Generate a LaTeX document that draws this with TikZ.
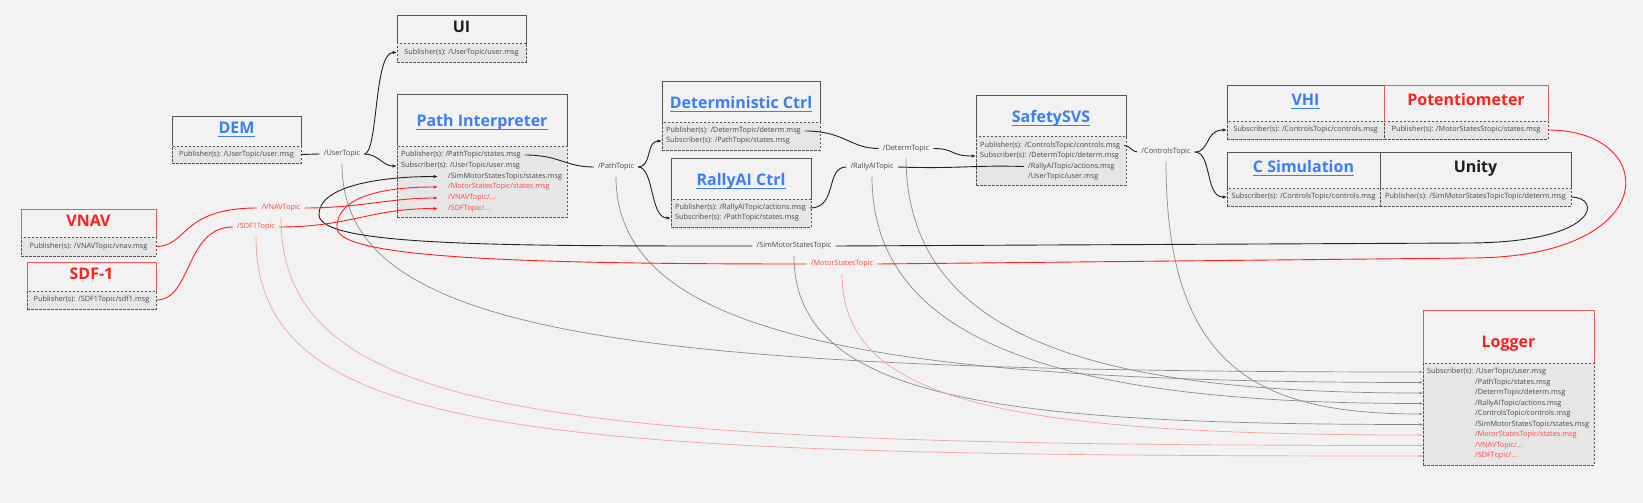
\documentclass[tikz,border=0pt]{standalone}
\usepackage{fontspec}
\setmainfont{Open Sans}
\usetikzlibrary{arrows.meta}
\definecolor{bg}{HTML}{F2F2F2}
\definecolor{subfill}{HTML}{E6E6E6}
\definecolor{bord}{HTML}{555555}
\definecolor{linkblue}{HTML}{3D7EF2}
\definecolor{tred}{HTML}{FF1F1F}
\definecolor{lred}{HTML}{FF4444}
\definecolor{pred}{HTML}{EE5A5A}
\definecolor{txt}{HTML}{474747}
\definecolor{logg}{HTML}{8A8A8A}
\definecolor{logr}{HTML}{F7A0A0}
\definecolor{conn}{HTML}{222222}
\definecolor{dark}{HTML}{1C1C1C}
\begin{document}
\begin{tikzpicture}[x=1pt,y=-1pt,
 tbox/.style={draw=bord, line width=0.9pt, fill=bg, anchor=north west, inner sep=0pt, outer sep=0pt},
 sbox/.style={draw=bord, line width=0.75pt, dash pattern=on 2.5pt off 1.5pt, fill=subfill, anchor=north west, inner sep=0pt, outer sep=0pt},
 ttl/.style={font=\fontsize{16}{18}\selectfont\bfseries, inner sep=0pt, text height=11.5pt, text depth=0pt},
 ulin/.style={draw=linkblue, line width=1.3pt},
 rowtxt/.style={font=\fontsize{7.3}{9}\selectfont, text=txt, inner xsep=4pt, inner ysep=0pt, text height=5.5pt, text depth=1.6pt},
 topiclbl/.style={font=\fontsize{7.3}{9}\selectfont, text=txt, inner xsep=4pt, inner ysep=0pt, text height=5.5pt, text depth=1.6pt},
 cn/.style={draw=conn, line width=0.9pt},
 rc/.style={draw=tred, line width=0.9pt},
 arr/.style={-{Latex[length=4.5pt,width=3.5pt]}},
 loggray/.style={draw=logg, line width=0.7pt},
 logred/.style={draw=logr, line width=0.7pt},
 logarr/.style={-{Latex[length=3.5pt,width=2.8pt]}}
]
\fill[bg] (0,0) rectangle (1643,503);
\useasboundingbox (0,0) rectangle (1643,503);

% ---------- DEM
\node[tbox, minimum width=129pt, minimum height=30pt] (demT) at (172,116) {};
\node[sbox, minimum width=129pt, minimum height=17pt] (demS) at (172,146) {};
\node[ttl, text=linkblue] (demN) at (236.5,128) {DEM};
\draw[ulin] ([shift={(0,2.5)}]demN.south west) -- ([shift={(0,2.5)}]demN.south east);
\node[rowtxt] (demP) at (demS.center) {Publisher(s): /UserTopic/user.msg};

% ---------- UI
\node[tbox, minimum width=129pt, minimum height=28pt] (uiT) at (397,15) {};
\node[sbox, minimum width=129pt, minimum height=19pt] (uiS) at (397,43) {};
\node[ttl, text=dark] (uiN) at (461.5,26.5) {UI};
\node[rowtxt] (uiP) at (uiS.center) {Sublisher(s): /UserTopic/user.msg};

% ---------- Path Interpreter
\node[tbox, minimum width=170pt, minimum height=52pt] (piT) at (397,94) {};
\node[sbox, minimum width=170pt, minimum height=71pt] (piS) at (397,146) {};
\node[ttl, text=linkblue] (piN) at (482,121) {Path Interpreter};
\draw[ulin] ([shift={(0,2.5)}]piN.south west) -- ([shift={(0,2.5)}]piN.south east);
\node[rowtxt, anchor=west] (piP) at (397,155) {Publisher(s): /PathTopic/states.msg};
\node[rowtxt, anchor=west] (piSub) at (397,166) {Subscriber(s): /UserTopic/user.msg};
\node[rowtxt, anchor=west] (piSim) at (444,176.5) {/SimMotorStatesTopic/states.msg};
\node[rowtxt, anchor=west, text=lred] (piMot) at (444,187) {/MotorStatesTopic/states.msg};
\node[rowtxt, anchor=west, text=lred] (piVn) at (444,198) {/VNAVTopic/...};
\node[rowtxt, anchor=west, text=lred] (piSdf) at (444,208.5) {/SDFTopic/...};

% ---------- VNAV
\node[tbox, draw=pred, minimum width=135pt, minimum height=28pt] (vnT) at (21,209) {};
\node[sbox, minimum width=135pt, minimum height=19pt] (vnS) at (21,237) {};
\node[ttl, text=tred] (vnN) at (88.5,220.5) {VNAV};
\node[rowtxt] (vnP) at (vnS.center) {Publisher(s): /VNAVTopic/vnav.msg};

% ---------- SDF-1
\node[tbox, draw=pred, minimum width=129pt, minimum height=29pt] (sdT) at (27,262) {};
\node[sbox, minimum width=129pt, minimum height=18pt] (sdS) at (27,291) {};
\node[ttl, text=tred] (sdN) at (91.5,274) {SDF-1};
\node[rowtxt] (sdP) at (sdS.center) {Publisher(s): /SDF1Topic/sdf1.msg};

% ---------- Deterministic Ctrl
\node[tbox, minimum width=158pt, minimum height=41pt] (dcT) at (662,81) {};
\node[sbox, minimum width=158pt, minimum height=28pt] (dcS) at (662,122) {};
\node[ttl, text=linkblue] (dcN) at (741,103) {Deterministic Ctrl};
\draw[ulin] ([shift={(0,2.5)}]dcN.south west) -- ([shift={(0,2.5)}]dcN.south east);
\node[rowtxt, anchor=west] (dcP) at (662,131) {Publisher(s): /DetermTopic/determ.msg};
\node[rowtxt, anchor=west] (dcSub) at (662,141) {Subscriber(s): /PathTopic/states.msg};

% ---------- RallyAI Ctrl
\node[tbox, minimum width=140pt, minimum height=41pt] (raT) at (671,158) {};
\node[sbox, minimum width=140pt, minimum height=28pt] (raS) at (671,199) {};
\node[ttl, text=linkblue] (raN) at (741,180) {RallyAI Ctrl};
\draw[ulin] ([shift={(0,2.5)}]raN.south west) -- ([shift={(0,2.5)}]raN.south east);
\node[rowtxt, anchor=west] (raP) at (671,208) {Publisher(s): /RallyAITopic/actions.msg};
\node[rowtxt, anchor=west] (raSub) at (671,218) {Subscriber(s): /PathTopic/states.msg};

% ---------- SafetySVS
\node[tbox, minimum width=150pt, minimum height=41pt] (svT) at (976,95) {};
\node[sbox, minimum width=150pt, minimum height=49pt] (svS) at (976,136) {};
\node[ttl, text=linkblue] (svN) at (1051,117) {SafetySVS};
\draw[ulin] ([shift={(0,2.5)}]svN.south west) -- ([shift={(0,2.5)}]svN.south east);
\node[rowtxt, anchor=west] (svP) at (976,145.5) {Publisher(s): /ControlsTopic/controls.msg};
\node[rowtxt, anchor=west] (svSub) at (976,156) {Subscriber(s): /DetermTopic/determ.msg};
\node[rowtxt, anchor=west] (svRa) at (1024,166.5) {/RallyAITopic/actions.msg};
\node[rowtxt, anchor=west] (svUs) at (1024,177) {/UserTopic/user.msg};

% ---------- VHI
\node[tbox, minimum width=157pt, minimum height=36pt] (vhT) at (1227,85) {};
\node[sbox, minimum width=157pt, minimum height=18pt] (vhS) at (1227,121) {};
\node[ttl, text=linkblue] (vhN) at (1305.5,100) {VHI};
\draw[ulin] ([shift={(0,2.5)}]vhN.south west) -- ([shift={(0,2.5)}]vhN.south east);
\node[rowtxt] (vhP) at (vhS.center) {Subscriber(s): /ControlsTopic/controls.msg};

% ---------- Potentiometer
\node[tbox, draw=pred, minimum width=164pt, minimum height=36pt] (poT) at (1384,85) {};
\node[sbox, minimum width=164pt, minimum height=18pt] (poS) at (1384,121) {};
\node[ttl, text=tred] (poN) at (1466,100) {Potentiometer};
\node[rowtxt] (poP) at (poS.center) {Publisher(s): /MotorStatesStopic/states.msg};

% ---------- C Simulation
\node[tbox, minimum width=153pt, minimum height=36pt] (csT) at (1227,152) {};
\node[sbox, minimum width=153pt, minimum height=18pt] (csS) at (1227,188) {};
\node[ttl, text=linkblue] (csN) at (1303.5,167) {C Simulation};
\draw[ulin] ([shift={(0,2.5)}]csN.south west) -- ([shift={(0,2.5)}]csN.south east);
\node[rowtxt] (csP) at (csS.center) {Subscriber(s): /ControlsTopic/controls.msg};

% ---------- Unity
\node[tbox, minimum width=191pt, minimum height=36pt] (unT) at (1380,152) {};
\node[sbox, minimum width=191pt, minimum height=18pt] (unS) at (1380,188) {};
\node[ttl, text=dark] (unN) at (1475.5,167) {Unity};
\node[rowtxt] (unP) at (unS.center) {Publisher(s): /SimMotorStatesTopicTopic/determ.msg};

% ---------- Logger
\node[tbox, draw=pred, minimum width=171pt, minimum height=53pt] (lgT) at (1423,310) {};
\node[sbox, minimum width=171pt, minimum height=102pt] (lgS) at (1423,363) {};
\node[ttl, text=tred] (lgN) at (1508.5,342) {Logger};
\node[rowtxt, anchor=west] (lg1) at (1423,372) {Subscriber(s): /UserTopic/user.msg};
\node[rowtxt, anchor=west] (lg2) at (1471,382.5) {/PathTopic/states.msg};
\node[rowtxt, anchor=west] (lg3) at (1471,393) {/DetermTopic/determ.msg};
\node[rowtxt, anchor=west] (lg4) at (1471,403.5) {/RallyAITopic/actions.msg};
\node[rowtxt, anchor=west] (lg5) at (1471,414) {/ControlsTopic/controls.msg};
\node[rowtxt, anchor=west] (lg6) at (1471,424.5) {/SimMotorStatesTopic/states.msg};
\node[rowtxt, anchor=west, text=lred] (lg7) at (1471,435) {/MotorStatesTopic/states.msg};
\node[rowtxt, anchor=west, text=lred] (lg8) at (1471,445.5) {/VNAVTopic/...};
\node[rowtxt, anchor=west, text=lred] (lg9) at (1471,456) {/SDFTopic/...};

% ---------- topic labels
\node[topiclbl] (ut) at (342,154) {/UserTopic};
\node[topiclbl] (ptp) at (616,167) {/PathTopic};
\node[topiclbl] (dtp) at (906,148.5) {/DetermTopic};
\node[topiclbl] (rtp) at (872,167) {/RallyAITopic};
\node[topiclbl] (ctp) at (1166,152) {/ControlsTopic};
\node[topiclbl] (stp) at (794,246) {/SimMotorStatesTopic};
\node[topiclbl, text=lred] (mtp) at (842,264) {/MotorStatesTopic};
\node[topiclbl, text=lred] (vtp) at (281,208) {/VNAVTopic};
\node[topiclbl, text=lred] (sftp) at (256,227) {/SDF1Topic};

% ---------- logger feeds
\draw[loggray, logarr] ([shift={(0,6)}]ut.south) .. controls (342,335) and (620,372) .. (lgS.west |- lg1);
\draw[loggray, logarr] ([shift={(0,6)}]ptp.south) .. controls (616,330) and (850,382.5) .. (lgS.west |- lg2);
\draw[loggray, logarr] ([shift={(0,6)}]dtp.south) .. controls (907,340) and (1100,393) .. (lgS.west |- lg3);
\draw[loggray, logarr] ([shift={(0,6)}]rtp.south) .. controls (872,350) and (1080,403.5) .. (lgS.west |- lg4);
\draw[loggray, logarr] ([shift={(0,6)}]ctp.south) .. controls (1166,370) and (1260,414) .. (lgS.west |- lg5);
\draw[loggray, logarr] ([shift={(0,6)}]stp.south) .. controls (794,400) and (1000,424.5) .. (lgS.west |- lg6);
\draw[logred, logarr] ([shift={(0,6)}]mtp.south) .. controls (842,400) and (1000,435) .. (lgS.west |- lg7);
\draw[logred, logarr] ([shift={(0,6)}]vtp.south) .. controls (281,420) and (560,445.5) .. (lgS.west |- lg8);
\draw[logred, logarr] ([shift={(0,6)}]sftp.south) .. controls (256,440) and (540,456) .. (lgS.west |- lg9);

% ---------- black connectors
\draw[cn] (demS.east) -- (ut.west);
\draw[cn, arr] (ut.east) .. controls (378,154) and (374,52.5) .. (uiS.west |- uiP);
\draw[cn, arr] (ut.east) .. controls (378,154) and (383,166) .. (piS.west |- piSub);
\draw[cn] (piP.east) .. controls (560,155) and (565,167) .. (ptp.west);
\draw[cn, arr] (ptp.east) .. controls (652,167) and (646,141) .. (dcS.west |- dcSub);
\draw[cn, arr] (ptp.east) .. controls (654,167) and (650,218) .. (raS.west |- raSub);
\draw[cn] (dcP.east) .. controls (845,131) and (850,148.5) .. (dtp.west);
\draw[cn, arr] (dtp.east) .. controls (955,148.5) and (950,156) .. (svS.west |- svSub);
\draw[cn] (raP.east) .. controls (838,208) and (825,167) .. (rtp.west);
\draw[cn] (rtp.east) .. controls (960,169) and (970,165) .. (svRa.west);
\draw[cn] (svP.east) .. controls (1131,146) and (1132,152) .. (ctp.west);
\draw[cn, arr] (ctp.east) .. controls (1210,152) and (1205,130) .. (vhS.west);
\draw[cn, arr] (ctp.east) .. controls (1212,152) and (1205,197) .. (csS.west);

% SimMotorStates loop
\draw[cn] (unS.east) .. controls (1602,197) and (1600,242) .. (1470,243) -- (stp.east);
\draw[cn, arr] (stp.west) .. controls (500,246) and (320,246) .. (319,215)
  .. controls (318,186) and (380,176.5) .. ([shift={(-6,0)}]piSim.west);

% ---------- red connectors
\draw[rc] (vnS.east) .. controls (188,246.5) and (180,208) .. (vtp.west);
\draw[rc, arr] (vtp.east) .. controls (360,208) and (390,198) .. ([shift={(-6,0)}]piVn.west);
\draw[rc] (sdS.east) .. controls (192,300.5) and (185,227) .. (sftp.west);
\draw[rc, arr] (sftp.east) .. controls (350,227) and (370,208.5) .. ([shift={(-6,0)}]piSdf.west);
\draw[rc] (poS.east) .. controls (1660,130) and (1665,258) .. (1470,258) -- (mtp.east);
\draw[rc, arr] (mtp.west) .. controls (520,264) and (338,258) .. (337,228)
  .. controls (336,196) and (385,187) .. ([shift={(-6,0)}]piMot.west);
\end{tikzpicture}
\end{document}
